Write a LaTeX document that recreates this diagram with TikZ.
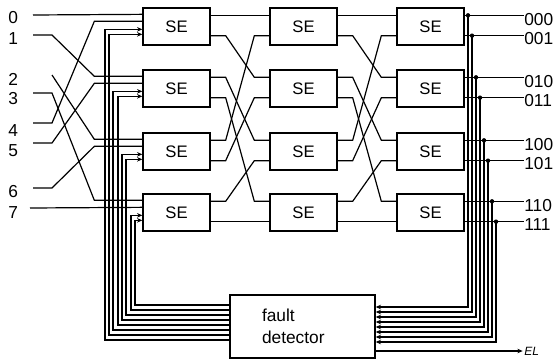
\documentclass[tikz,border=0pt]{standalone}
\usepackage{fontspec}
\setmainfont{Liberation Sans}
\usetikzlibrary{calc,arrows.meta}

\tikzset{
  sebox/.style={draw,line width=1pt,minimum width=50.25pt,minimum height=27.75pt,inner sep=0pt,font=\fontsize{12.5}{14}\selectfont},
  fdbox/.style={draw,line width=1pt,minimum height=47.25pt,inner xsep=24pt,text width=60.75pt,align=left,font=\fontsize{13}{16.5}\selectfont},
  wire/.style={line width=0.9pt},
  ctrl/.style={line width=0.8pt,-{Stealth[length=4pt,width=3.4pt]}},
  lbl/.style={inner sep=0pt,font=\fontsize{13}{15}\selectfont},
}

\begin{document}
\begin{tikzpicture}[x=0.75pt,y=0.75pt,yscale=-1,xscale=1]
\useasboundingbox (0,0) rectangle (560,360);

%Switching elements and their ports
\foreach \s/\xx in {1/176.5,2/303.5,3/430.5}
  \foreach \r/\yy in {0/26.5,1/88.5,2/151.5,3/212.5}{
    \node[sebox] (se\s\r) at (\xx,\yy) {SE};
    \coordinate (se\s\r-i0) at ($(se\s\r.north west)+(0,8)$);
    \coordinate (se\s\r-i1) at ($(se\s\r.south west)+(0,-10)$);
    \coordinate (se\s\r-o0) at ($(se\s\r.north east)+(0,8)$);
    \coordinate (se\s\r-o1) at ($(se\s\r.south east)+(0,-10)$);
    \coordinate (se\s\r-a) at ($(se\s\r.north west)+(0,7)$);
    \coordinate (se\s\r-b) at ($(se\s\r.north west)+(0,14)$);
    \coordinate (se\s\r-c0) at ($(se\s\r.north west)+(0,22)$);
    \coordinate (se\s\r-c1) at ($(se\s\r.north west)+(0,27)$);
  }

% Fault detector
\node[fdbox] (fd) at (302.5,326.5) {fault\\detector};

% Input labels
\node[lbl,anchor=west] (n0) at (8,18) {0};
\node[lbl,anchor=west] (n1) at (8,39) {1};
\node[lbl,anchor=west] (n2) at (8,79) {2};
\node[lbl,anchor=west] (n3) at (8,99) {3};
\node[lbl,anchor=west] (n4) at (8,131) {4};
\node[lbl,anchor=west] (n5) at (8,151) {5};
\node[lbl,anchor=west] (n6) at (8,192) {6};
\node[lbl,anchor=west] (n7) at (8,213) {7};

\coordinate (l0) at (33,15);
\coordinate (l1) at (33,35);
\coordinate (l2) at (52,75);
\coordinate (l3) at (33,93);
\coordinate (l4) at (33,123);
\coordinate (l5) at (33,143);
\coordinate (l6) at (33,188);
\coordinate (l7) at (30,208);

% Input shuffle
\draw[wire] (l0) -- (se10-a);
\draw[wire] (l1) -- ++(19,0) -- ([xshift=-36pt]se11-a) -- (se11-a);
\draw[wire] (l2) -- ([xshift=-36pt]se12-a) -- (se12-a);
\draw[wire] (l3) -- ++(19,0) -- ([xshift=-36pt]se13-a) -- (se13-a);
\draw[wire] (l4) -- ++(19,0) -- ([xshift=-36pt]se10-b) -- (se10-b);
\draw[wire] (l5) -- ++(19,0) -- ([xshift=-36pt]se11-b) -- (se11-b);
\draw[wire] (l6) -- ++(19,0) -- ([xshift=-36pt]se12-b) -- (se12-b);
\draw[wire] (l7) -- (se13-b);

% Shuffles between the stages
\foreach \a/\b in {0-o0/0-i0,0-o1/1-i0,1-o0/2-i0,1-o1/3-i0,2-o0/0-i1,2-o1/1-i1,3-o0/2-i1,3-o1/3-i1}{
  \draw[wire] (se1\a) -- ++(15,0) -- ([xshift=-11.25pt]se2\b) -- (se2\b);
  \draw[wire] (se2\a) -- ++(15,0) -- ([xshift=-11.25pt]se3\b) -- (se3\b);
}

% Outputs
\node[lbl,anchor=west] (o000) at (524,20) {000};
\node[lbl,anchor=west] (o001) at (524,39) {001};
\node[lbl,anchor=west] (o010) at (524,82) {010};
\node[lbl,anchor=west] (o011) at (524,101) {011};
\node[lbl,anchor=west] (o100) at (524,145) {100};
\node[lbl,anchor=west] (o101) at (524,164) {101};
\node[lbl,anchor=west] (o110) at (524,206) {110};
\node[lbl,anchor=west] (o111) at (524,225) {111};
\foreach \port/\t in {se30-o0/000,se30-o1/001,se31-o0/010,se31-o1/011,se32-o0/100,se32-o1/101,se33-o0/110,se33-o1/111}
  \draw[wire] (\port) -- (\port -| o\t.west);

% Taps to the fault detector
\foreach \port/\xx/\yy in {se30-o0/468/307,se30-o1/472/312,se31-o0/476/317,se31-o1/480/322,se32-o0/484/327,se32-o1/488/332,se33-o0/492/337,se33-o1/496/342}{
  \fill (\port -| \xx,0) circle (2.2);
  \draw[ctrl] (\port -| \xx,0) |- (fd.east |- 0,\yy);
}

% Control lines to the first stage
\foreach \port/\xx/\yy in {se10-c0/105/340,se10-c1/109/335,se11-c0/113/330,se11-c1/118/325,se12-c0/122/320,se12-c1/126/315,se13-c0/131/310,se13-c1/135/305}
  \draw[ctrl] (fd.west |- 0,\yy) -| (\port -| \xx,0) -- (\port);

% Error line
\node[inner sep=0pt,anchor=west,font=\fontsize{9}{10}\selectfont\itshape] (el) at (524,351) {EL};
\draw[ctrl] (fd.east |- el) -- ([xshift=-1pt]el.west);

\end{tikzpicture}
\end{document}
